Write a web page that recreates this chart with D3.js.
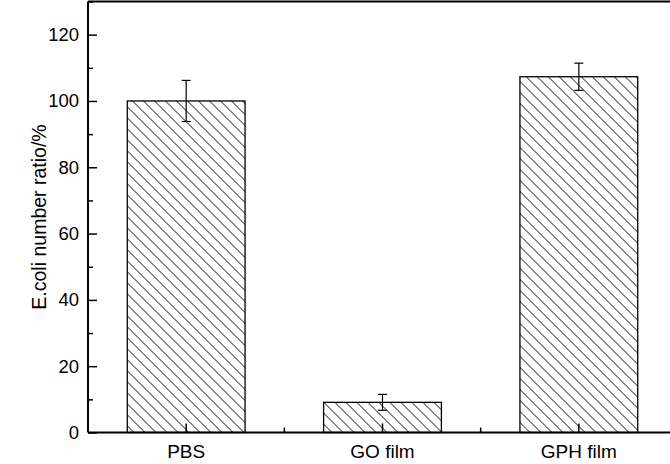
<!DOCTYPE html>
<html>
<head>
<meta charset="utf-8">
<script src="https://cdn.jsdelivr.net/npm/d3@7"></script>
<style>
  body { margin: 0; background: #fff; }
  text { font-family: "Liberation Sans", Arial, sans-serif; fill: #000; }
</style>
</head>
<body>
<svg id="chart"></svg>
<script>
// data
var categories = ["PBS", "GO film", "GPH film"];
var ratios = [100, 9.1, 107.3];
var errors = [6.2, 2.4, 4.1];
var yTicks = [0, 20, 40, 60, 80, 100, 120];
var yMinorTicks = [10, 30, 50, 70, 90, 110, 130];

var margin = {top: 1.5, right: 0, bottom: 31.5, left: 88},
    W = 670, H = 464,
    width = 589,
    height = H - margin.top - margin.bottom;

var svg = d3.select("#chart")
  .attr("width", W)
  .attr("height", H);

// hatch pattern
svg.append("defs").append("pattern")
  .attr("id", "hatch")
  .attr("patternUnits", "userSpaceOnUse")
  .attr("width", 11)
  .attr("height", 11)
  .append("path")
    .attr("d", "M-1,-1 L12,12 M-12,-1 L1,12 M10,-1 L23,12")
    .attr("stroke", "#111")
    .attr("stroke-width", 1);

var g = svg.append("g")
  .attr("transform", "translate(" + margin.left + "," + margin.top + ")");

var x = d3.scaleBand().domain(categories).range([0, width]).paddingInner(0.4).paddingOuter(0.2);
var y = d3.scaleLinear().domain([0, 130]).range([height, 0]);

// bars
g.selectAll(".bar")
  .data(categories)
  .enter().append("rect")
  .attr("class", "bar")
  .attr("x", function(d) { return x(d); })
  .attr("y", function(d, i) { return y(ratios[i]); })
  .attr("width", x.bandwidth())
  .attr("height", function(d, i) { return y(0) - y(ratios[i]); })
  .attr("fill", "url(#hatch)")
  .attr("stroke", "#000")
  .attr("stroke-width", 1.3);

// error bars
var eb = g.selectAll(".err")
  .data(categories)
  .enter().append("g")
  .attr("class", "err")
  .attr("transform", function(d) { return "translate(" + (x(d) + x.bandwidth() / 2) + ",0)"; });

eb.append("line")
  .attr("y1", function(d, i) { return y(ratios[i] + errors[i]); })
  .attr("y2", function(d, i) { return y(ratios[i] - errors[i]); })
  .attr("stroke", "#000").attr("stroke-width", 1.2);
eb.append("line")
  .attr("x1", -4.5).attr("x2", 4.5)
  .attr("y1", function(d, i) { return y(ratios[i] + errors[i]); })
  .attr("y2", function(d, i) { return y(ratios[i] + errors[i]); })
  .attr("stroke", "#000").attr("stroke-width", 1.2);
eb.append("line")
  .attr("x1", -4.5).attr("x2", 4.5)
  .attr("y1", function(d, i) { return y(ratios[i] - errors[i]); })
  .attr("y2", function(d, i) { return y(ratios[i] - errors[i]); })
  .attr("stroke", "#000").attr("stroke-width", 1.2);

// y axis (ticks inward)
var yAxis = g.append("g")
  .attr("class", "y axis")
  .call(d3.axisRight(y).tickValues(yTicks).tickSize(9).tickFormat(""));
yAxis.select(".domain").remove();
yAxis.selectAll(".tick line").attr("stroke-width", 1.5);

var yMinor = g.append("g")
  .call(d3.axisRight(y).tickValues(yMinorTicks).tickSize(5).tickFormat(""));
yMinor.select(".domain").remove();
yMinor.selectAll(".tick line").attr("stroke-width", 1.5);

g.selectAll(".ylab")
  .data(yTicks)
  .enter().append("text")
  .attr("class", "ylab")
  .attr("x", -9)
  .attr("y", function(d) { return y(d); })
  .attr("dy", "0.35em")
  .attr("text-anchor", "end")
  .style("font-size", "18.5px")
  .text(function(d) { return d; });

// x axis (ticks inward)
var xAxis = g.append("g")
  .attr("transform", "translate(0," + height + ")")
  .call(d3.axisTop(x).tickSize(9).tickFormat(""));
xAxis.select(".domain").remove();
xAxis.selectAll(".tick line").attr("stroke-width", 1.5);

var step = x.step();
var xMinor = g.append("g")
  .selectAll("line")
  .data(categories.slice(1))
  .enter().append("line")
  .attr("x1", function(d) { return x(d) - (step - x.bandwidth()) / 2; })
  .attr("x2", function(d) { return x(d) - (step - x.bandwidth()) / 2; })
  .attr("y1", height).attr("y2", height - 5)
  .attr("stroke", "#000").attr("stroke-width", 1.5);

g.selectAll(".xlab")
  .data(categories)
  .enter().append("text")
  .attr("class", "xlab")
  .attr("x", function(d) { return x(d) + x.bandwidth() / 2; })
  .attr("y", height + 25)
  .attr("text-anchor", "middle")
  .style("font-size", "19px")
  .text(function(d) { return d; });

// frame
g.append("line").attr("x1", 0).attr("x2", 0).attr("y1", 0).attr("y2", height)
  .attr("stroke", "#000").attr("stroke-width", 2);
g.append("line").attr("x1", 0).attr("x2", width).attr("y1", height).attr("y2", height)
  .attr("stroke", "#000").attr("stroke-width", 2);
g.append("line").attr("x1", 0).attr("x2", width).attr("y1", 0).attr("y2", 0)
  .attr("stroke", "#000").attr("stroke-width", 2);

// y title
svg.append("text")
  .attr("transform", "translate(46," + (margin.top + height / 2) + ") rotate(-90)")
  .attr("text-anchor", "middle")
  .style("font-size", "19.5px")
  .text("E.coli number ratio/%");
</script>
</body>
</html>
